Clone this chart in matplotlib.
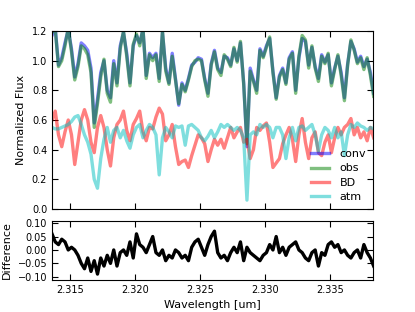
import numpy as np
import matplotlib
matplotlib.use("Agg")
import matplotlib.pyplot as plt

# wavelength grid [um]
wave = np.arange(100) * 0.00025 + 2.3136

# model convolved spectrum
conv = [1.17, 1.22, 0.97, 1.02, 1.12, 1.21, 1.08, 0.89, 0.98, 1.12, 1.10, 1.07, 0.95, 0.58, 0.74, 0.92, 1.00, 0.80, 0.75, 1.00,
        0.85, 1.10, 1.19, 1.05, 0.85, 1.10, 1.17, 1.12, 1.21, 0.90, 1.05, 1.02, 1.05, 0.88, 1.19, 0.95, 0.85, 1.05, 0.88, 0.70,
        0.85, 0.80, 0.88, 0.97, 0.99, 1.02, 1.01, 0.88, 0.78, 0.98, 1.07, 0.95, 0.92, 1.03, 1.02, 0.97, 1.08, 1.00, 1.12, 0.85,
        0.42, 0.95, 0.87, 0.80, 1.08, 1.03, 1.10, 1.15, 0.93, 0.75, 0.90, 0.95, 0.85, 1.02, 1.06, 0.80, 1.02, 1.15, 1.13, 0.97,
        1.09, 0.96, 0.88, 1.04, 0.99, 1.04, 0.85, 0.95, 1.03, 0.92, 0.75, 0.98, 1.13, 1.08, 0.99, 1.03, 0.96, 1.01, 0.92, 0.78]

# observed spectrum
obs = [1.19, 1.21, 0.96, 1.00, 1.10, 1.22, 1.06, 0.87, 0.96, 1.10, 1.08, 1.04, 0.92, 0.55, 0.71, 0.89, 1.01, 0.78, 0.72, 0.98,
       0.83, 1.08, 1.20, 1.03, 0.83, 1.11, 1.18, 1.10, 1.22, 0.88, 1.04, 1.00, 1.04, 0.86, 1.20, 0.93, 0.84, 1.03, 0.87, 0.71,
       0.84, 0.79, 0.87, 0.96, 1.00, 1.01, 1.00, 0.87, 0.76, 0.97, 1.06, 0.94, 0.90, 1.04, 1.01, 0.96, 1.09, 0.99, 1.13, 0.84,
       0.44, 0.93, 0.86, 0.78, 1.07, 1.02, 1.09, 1.16, 0.92, 0.74, 0.89, 0.94, 0.84, 1.01, 1.05, 0.78, 1.03, 1.17, 1.14, 0.95,
       1.10, 0.95, 0.86, 1.03, 0.98, 1.05, 0.83, 0.94, 1.04, 0.90, 0.73, 0.97, 1.14, 1.07, 0.98, 1.02, 0.94, 1.02, 0.90, 0.76]

# brown dwarf template
bd = [0.60, 0.66, 0.50, 0.42, 0.52, 0.60, 0.50, 0.30, 0.45, 0.60, 0.67, 0.60, 0.45, 0.38, 0.55, 0.63, 0.55, 0.40, 0.29, 0.48,
      0.57, 0.60, 0.66, 0.53, 0.46, 0.57, 0.61, 0.66, 0.52, 0.46, 0.55, 0.54, 0.62, 0.68, 0.64, 0.46, 0.50, 0.57, 0.42, 0.30,
      0.32, 0.33, 0.28, 0.36, 0.43, 0.50, 0.48, 0.44, 0.32, 0.40, 0.47, 0.43, 0.47, 0.41, 0.48, 0.55, 0.48, 0.52, 0.55, 0.45,
      0.47, 0.34, 0.40, 0.55, 0.53, 0.56, 0.58, 0.45, 0.28, 0.31, 0.34, 0.44, 0.50, 0.55, 0.47, 0.32, 0.50, 0.61, 0.45, 0.34,
      0.48, 0.52, 0.38, 0.36, 0.45, 0.50, 0.38, 0.48, 0.55, 0.50, 0.55, 0.57, 0.61, 0.50, 0.55, 0.48, 0.52, 0.46, 0.55, 0.48]

# telluric (atmosphere) model
atm = [0.55, 0.54, 0.54, 0.55, 0.56, 0.57, 0.59, 0.62, 0.63, 0.57, 0.50, 0.45, 0.37, 0.20, 0.14, 0.34, 0.47, 0.55, 0.45, 0.53,
       0.55, 0.48, 0.53, 0.46, 0.41, 0.50, 0.55, 0.57, 0.48, 0.53, 0.57, 0.55, 0.50, 0.23, 0.48, 0.55, 0.52, 0.48, 0.56, 0.55,
       0.56, 0.43, 0.56, 0.57, 0.55, 0.53, 0.48, 0.46, 0.49, 0.53, 0.48, 0.52, 0.57, 0.55, 0.57, 0.55, 0.53, 0.55, 0.53, 0.48,
       0.06, 0.50, 0.52, 0.50, 0.57, 0.55, 0.57, 0.55, 0.48, 0.55, 0.55, 0.50, 0.34, 0.48, 0.55, 0.46, 0.55, 0.56, 0.53, 0.55,
       0.57, 0.50, 0.39, 0.50, 0.55, 0.53, 0.48, 0.55, 0.48, 0.52, 0.36, 0.50, 0.57, 0.55, 0.58, 0.56, 0.55, 0.53, 0.55, 0.54]

# residuals
diff = [0.06, 0.03, 0.02, 0.04, 0.03, 0.00, 0.01, 0.00, -0.02, -0.05, -0.07, -0.03, -0.08, -0.04, -0.09, -0.03, -0.06, -0.02, -0.05, 0.00,
        -0.06, -0.01, 0.00, -0.02, 0.03, -0.03, 0.06, 0.02, 0.01, -0.01, 0.02, 0.05, -0.01, -0.02, 0.00, -0.04, -0.02, -0.03, 0.00, -0.01,
        -0.03, -0.02, -0.04, 0.01, 0.03, 0.04, 0.01, -0.02, 0.02, 0.05, 0.07, -0.01, -0.03, -0.02, -0.04, -0.01, 0.01, -0.01, 0.03, -0.04,
        0.01, -0.01, -0.02, -0.03, -0.04, -0.02, -0.01, 0.02, 0.00, 0.05, -0.01, 0.01, -0.02, 0.01, 0.02, 0.03, 0.00, -0.01, -0.03, -0.04,
        -0.01, 0.00, -0.06, -0.01, -0.02, 0.02, 0.03, 0.01, 0.02, -0.01, 0.00, -0.02, -0.03, -0.01, 0.00, -0.03, 0.02, -0.01, -0.03, -0.06]

fig = plt.figure(figsize=(4.15, 3.12), dpi=100)
ax1 = fig.add_axes([0.1253, 0.3301, 0.7735, 0.5705])
ax2 = fig.add_axes([0.1253, 0.1026, 0.7735, 0.1891])

ax1.plot(wave, conv, color='b', alpha=0.5, lw=2.4, label='conv')
ax1.plot(wave, obs, color='g', alpha=0.5, lw=2.4, label='obs')
ax1.plot(wave, bd, color='r', alpha=0.5, lw=2.4, label='BD')
ax1.plot(wave, atm, color='c', alpha=0.5, lw=2.4, label='atm')
ax1.set_ylim(0, 1.2)
ax1.set_ylabel('Normalized Flux', fontsize=8)
ax1.legend(loc='lower right', frameon=False, fontsize=8, handlelength=1.6,
           handletextpad=1.0, labelspacing=0.4, borderaxespad=0.2)
ax1.set_xticklabels([])

ax2.plot(wave, diff, color='k', lw=2.4)
ax2.set_ylim(-0.112, 0.108)
ax2.set_yticks([-0.10, -0.05, 0.0, 0.05, 0.10])
ax2.set_ylabel('Difference', fontsize=8)
ax2.set_xlabel('Wavelength [um]', fontsize=8)

for ax in (ax1, ax2):
    ax.set_xlim(2.3136, 2.3383)
    ax.set_xticks([2.315, 2.320, 2.325, 2.330, 2.335])
    ax.tick_params(direction='in', top=True, right=True, labelsize=7, length=4)
ax2.set_xticklabels(['2.315', '2.320', '2.325', '2.330', '2.335'])
ax1.set_yticks([0.0, 0.2, 0.4, 0.6, 0.8, 1.0, 1.2])
ax2.set_yticklabels(['\u22120.10', '\u22120.05', '0.00', '0.05', '0.10'])

fig.savefig('out.png', dpi=100)
